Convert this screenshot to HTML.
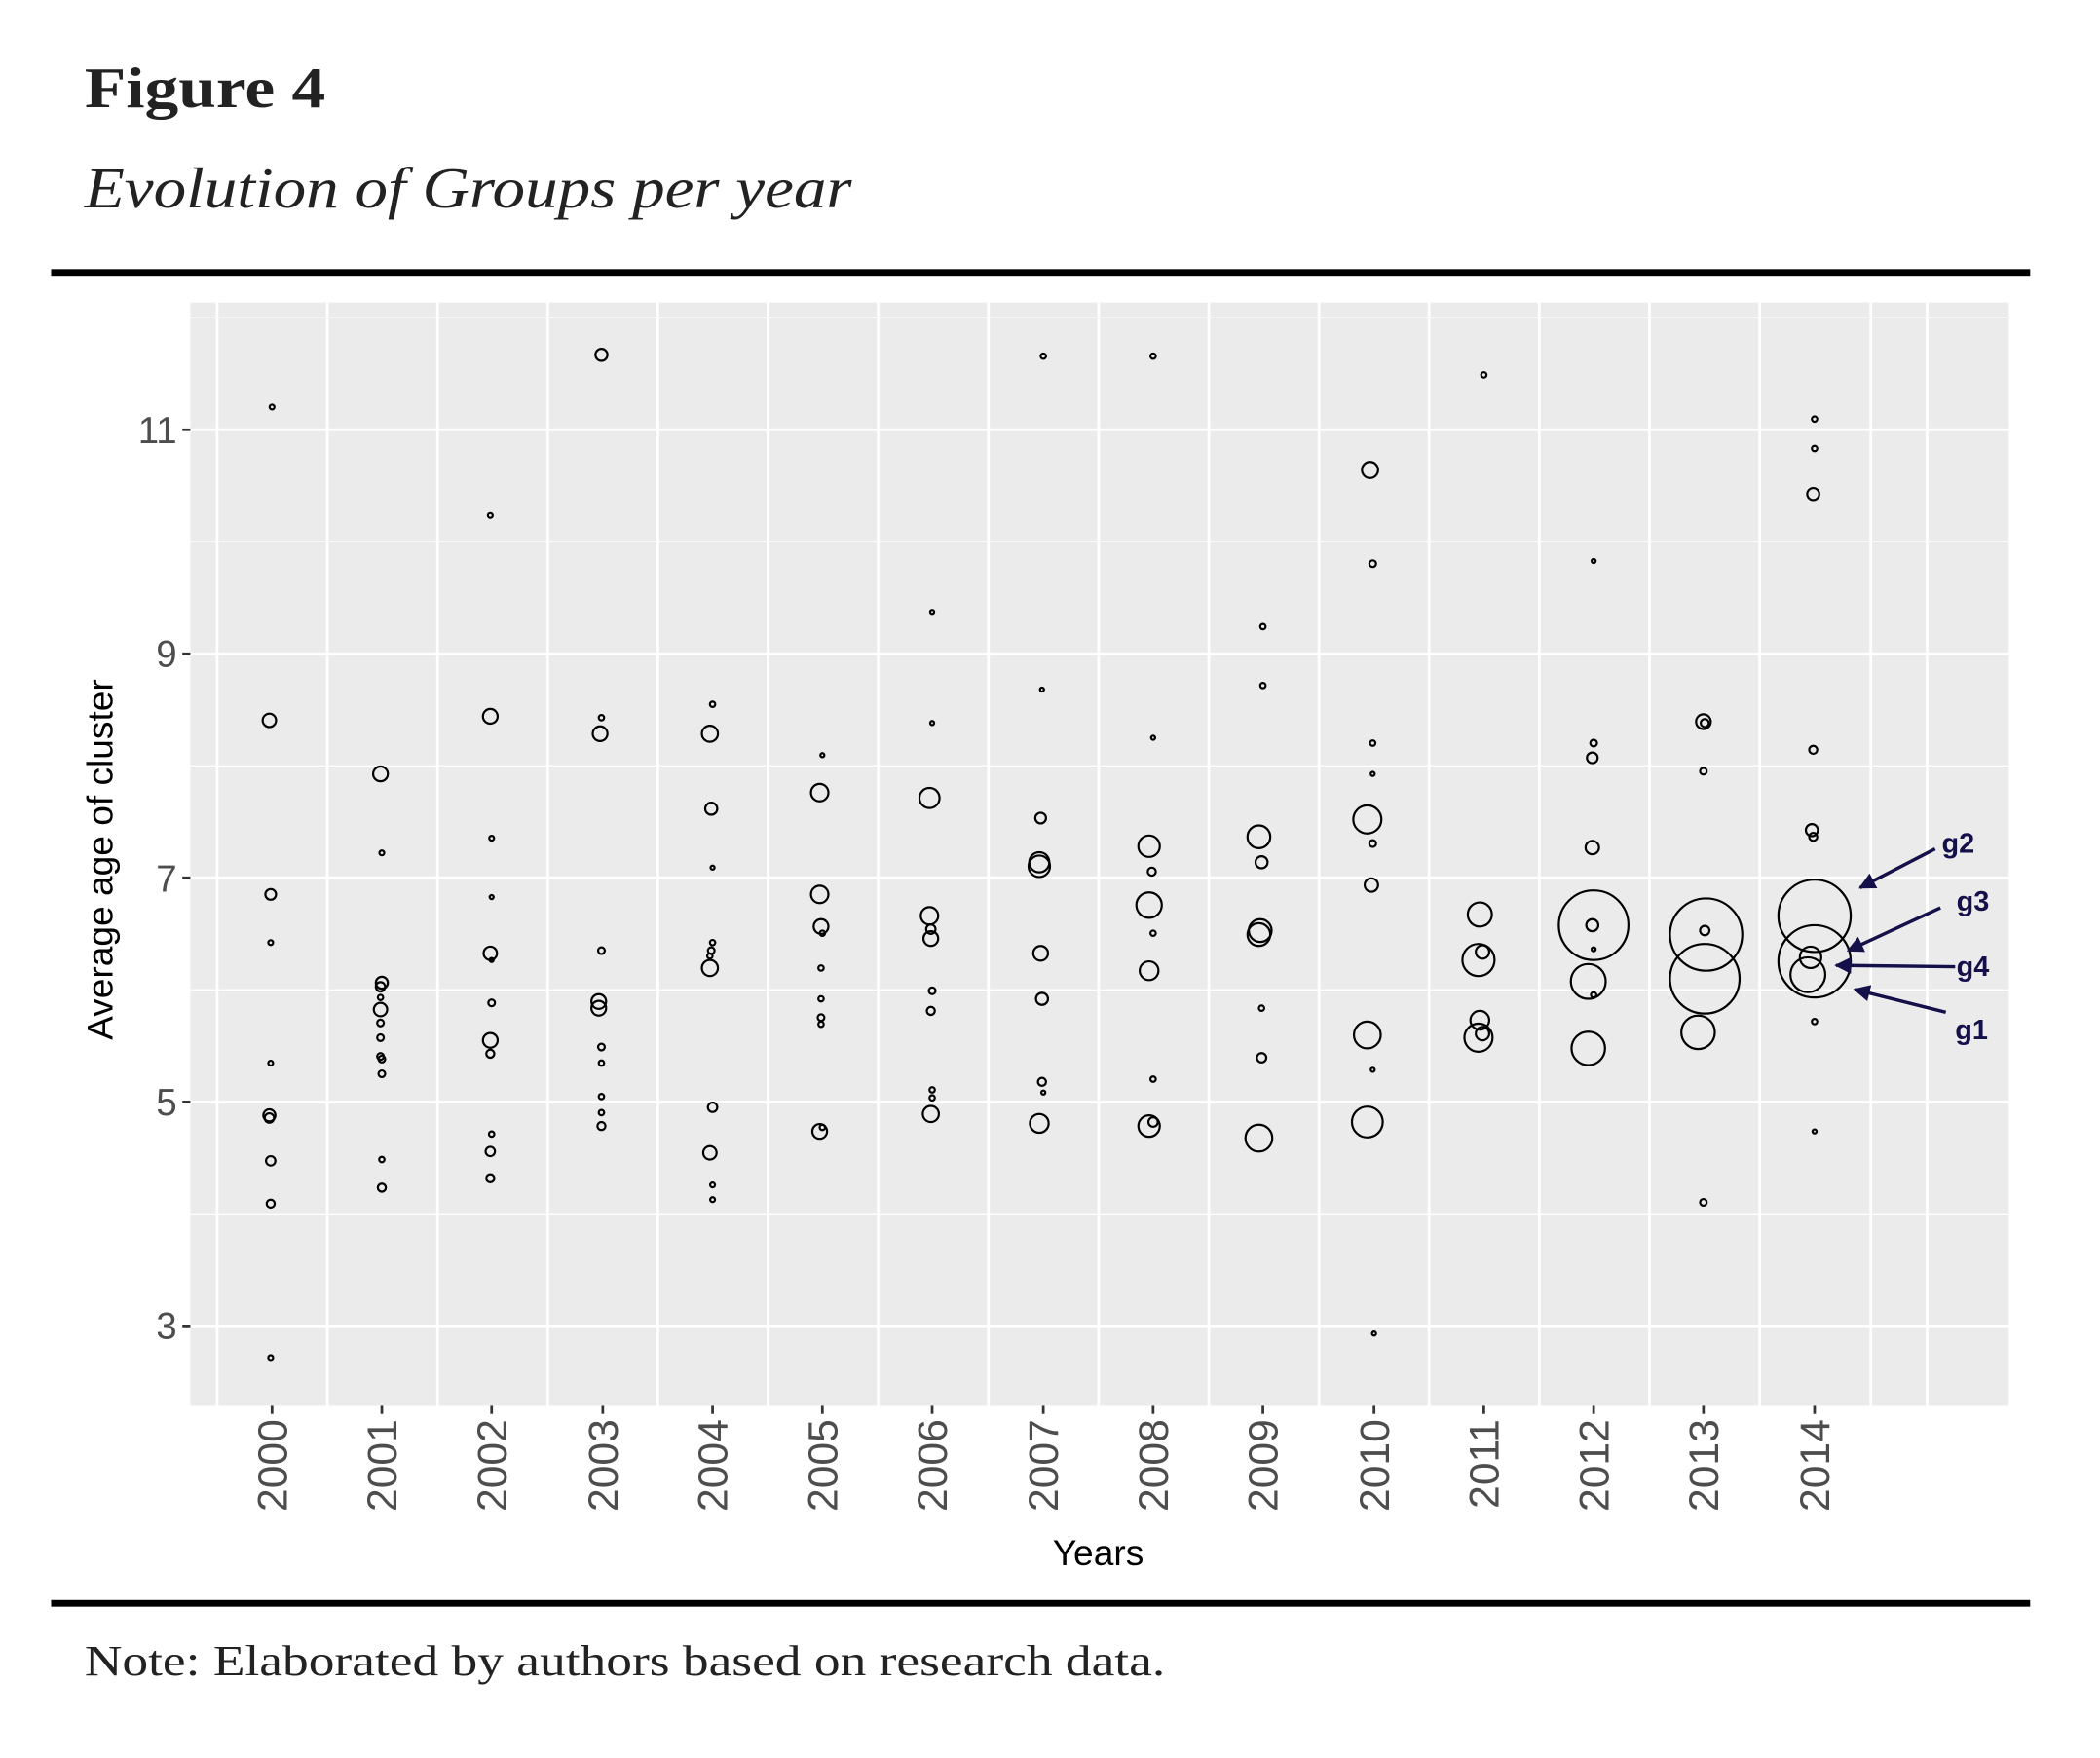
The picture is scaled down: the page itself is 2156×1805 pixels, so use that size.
<!DOCTYPE html>
<html><head><meta charset="utf-8"><style>html,body{margin:0;padding:0;background:#fff}svg{display:block}.gl{font-family:"Liberation Sans",sans-serif;font-weight:bold;font-size:21px;fill:#14104a}</style></head>
<body>
<svg xmlns="http://www.w3.org/2000/svg" width="2156" height="1805" viewBox="0 0 1568 1313">
<defs><marker id="ah" viewBox="0 0 10 10" refX="9" refY="5" markerWidth="5" markerHeight="5" orient="auto"><path d="M0,0 L10,5 L0,10 z" fill="#14104a"/></marker></defs>
<text x="63" y="80" font-family="Liberation Serif, serif" font-weight="bold" font-size="43" fill="#222" textLength="180" lengthAdjust="spacingAndGlyphs">Figure 4</text>
<text x="63" y="155" font-family="Liberation Serif, serif" font-style="italic" font-size="43" fill="#222" textLength="573" lengthAdjust="spacingAndGlyphs">Evolution of Groups per year</text>
<rect x="38" y="201" width="1478" height="5" fill="#000"/>
<rect x="142" y="226" width="1358" height="824" fill="#ebebeb"/>
<g stroke="#fff" stroke-width="1">
<line x1="142" x2="1500" y1="237.4" y2="237.4"/><line x1="142" x2="1500" y1="404.6" y2="404.6"/><line x1="142" x2="1500" y1="572" y2="572"/><line x1="142" x2="1500" y1="739.3" y2="739.3"/><line x1="142" x2="1500" y1="906.6" y2="906.6"/>
</g>
<g stroke="#fff" stroke-width="2">
<line x1="142" x2="1500" y1="321" y2="321"/><line x1="142" x2="1500" y1="488.3" y2="488.3"/><line x1="142" x2="1500" y1="655.6" y2="655.6"/><line x1="142" x2="1500" y1="823" y2="823"/><line x1="142" x2="1500" y1="990.3" y2="990.3"/>
<line x1="162" x2="162" y1="226" y2="1050"/><line x1="244.3" x2="244.3" y1="226" y2="1050"/><line x1="326.6" x2="326.6" y1="226" y2="1050"/><line x1="408.9" x2="408.9" y1="226" y2="1050"/><line x1="491.1" x2="491.1" y1="226" y2="1050"/><line x1="573.4" x2="573.4" y1="226" y2="1050"/><line x1="655.7" x2="655.7" y1="226" y2="1050"/><line x1="738" x2="738" y1="226" y2="1050"/><line x1="820.3" x2="820.3" y1="226" y2="1050"/><line x1="902.6" x2="902.6" y1="226" y2="1050"/><line x1="984.9" x2="984.9" y1="226" y2="1050"/><line x1="1067.1" x2="1067.1" y1="226" y2="1050"/><line x1="1149.4" x2="1149.4" y1="226" y2="1050"/><line x1="1231.7" x2="1231.7" y1="226" y2="1050"/><line x1="1314" x2="1314" y1="226" y2="1050"/><line x1="1397" x2="1397" y1="226" y2="1050"/><line x1="1439" x2="1439" y1="226" y2="1050"/>
</g>
<g stroke="#333" stroke-width="2">
<line x1="136" x2="142" y1="321" y2="321"/><line x1="136" x2="142" y1="488.3" y2="488.3"/><line x1="136" x2="142" y1="655.6" y2="655.6"/><line x1="136" x2="142" y1="823" y2="823"/><line x1="136" x2="142" y1="990.3" y2="990.3"/>
</g>
<g font-family="Liberation Sans, sans-serif" font-size="28" fill="#4d4d4d" text-anchor="end">
<text x="132" y="331">11</text><text x="132" y="498">9</text><text x="132" y="666">7</text><text x="132" y="833">5</text><text x="132" y="1000">3</text>
</g>
<text transform="translate(84,642) rotate(-90)" font-family="Liberation Sans, sans-serif" font-size="27" fill="#000" text-anchor="middle">Average age of cluster</text>
<g font-family="Liberation Sans, sans-serif" font-size="31" fill="#4d4d4d" text-anchor="end">
<text transform="translate(214,1060) rotate(-90)">2000</text><text transform="translate(296,1060) rotate(-90)">2001</text><text transform="translate(378,1060) rotate(-90)">2002</text><text transform="translate(461,1060) rotate(-90)">2003</text><text transform="translate(543,1060) rotate(-90)">2004</text><text transform="translate(625,1060) rotate(-90)">2005</text><text transform="translate(707,1060) rotate(-90)">2006</text><text transform="translate(790,1060) rotate(-90)">2007</text><text transform="translate(872,1060) rotate(-90)">2008</text><text transform="translate(954,1060) rotate(-90)">2009</text><text transform="translate(1037,1060) rotate(-90)">2010</text><text transform="translate(1119,1060) rotate(-90)">2011</text><text transform="translate(1201,1060) rotate(-90)">2012</text><text transform="translate(1283,1060) rotate(-90)">2013</text><text transform="translate(1366,1060) rotate(-90)">2014</text>
</g>
<g stroke="#333" stroke-width="2">
<line x1="203" x2="203" y1="1050" y2="1056"/><line x1="285" x2="285" y1="1050" y2="1056"/><line x1="367" x2="367" y1="1050" y2="1056"/><line x1="450" x2="450" y1="1050" y2="1056"/><line x1="532" x2="532" y1="1050" y2="1056"/><line x1="614" x2="614" y1="1050" y2="1056"/><line x1="696" x2="696" y1="1050" y2="1056"/><line x1="779" x2="779" y1="1050" y2="1056"/><line x1="861" x2="861" y1="1050" y2="1056"/><line x1="943" x2="943" y1="1050" y2="1056"/><line x1="1026" x2="1026" y1="1050" y2="1056"/><line x1="1108" x2="1108" y1="1050" y2="1056"/><line x1="1190" x2="1190" y1="1050" y2="1056"/><line x1="1272" x2="1272" y1="1050" y2="1056"/><line x1="1355" x2="1355" y1="1050" y2="1056"/>
</g>
<text x="820" y="1169" font-family="Liberation Sans, sans-serif" font-size="27" fill="#000" text-anchor="middle">Years</text>
<g fill="none" stroke="#000" stroke-width="1.6">
<circle cx="203" cy="304" r="1.8"/><circle cx="201" cy="538" r="5"/><circle cx="202" cy="668" r="4"/><circle cx="202" cy="704" r="1.8"/><circle cx="202" cy="794" r="1.8"/><circle cx="201" cy="833" r="4.5"/><circle cx="201" cy="835" r="3.5"/><circle cx="202" cy="867" r="3.5"/><circle cx="202" cy="899" r="3"/><circle cx="202" cy="1014" r="1.8"/>
<circle cx="284" cy="578" r="5.5"/><circle cx="285" cy="637" r="1.8"/><circle cx="285" cy="734" r="4.5"/><circle cx="284" cy="737" r="3.5"/><circle cx="284" cy="745" r="2"/><circle cx="284" cy="754" r="5"/><circle cx="284" cy="764" r="2.5"/><circle cx="284" cy="775" r="2.5"/><circle cx="284" cy="789" r="2.5"/><circle cx="285" cy="791" r="2.5"/><circle cx="285" cy="802" r="2.5"/><circle cx="285" cy="866" r="2"/><circle cx="285" cy="887" r="3"/>
<circle cx="366" cy="385" r="1.8"/><circle cx="366" cy="535" r="5.5"/><circle cx="367" cy="626" r="1.8"/><circle cx="367" cy="670" r="1.5"/><circle cx="366" cy="712" r="5"/><circle cx="367" cy="717" r="1.5"/><circle cx="367" cy="749" r="2.5"/><circle cx="366" cy="777" r="5.5"/><circle cx="366" cy="787" r="3"/><circle cx="367" cy="847" r="2"/><circle cx="366" cy="860" r="3.5"/><circle cx="366" cy="880" r="3"/>
<circle cx="449" cy="265" r="4.5"/><circle cx="449" cy="536" r="2"/><circle cx="448" cy="548" r="5.5"/><circle cx="449" cy="710" r="2.5"/><circle cx="447" cy="748" r="5.5"/><circle cx="447" cy="753" r="5.5"/><circle cx="449" cy="782" r="2.5"/><circle cx="449" cy="794" r="2"/><circle cx="449" cy="819" r="2"/><circle cx="449" cy="831" r="2"/><circle cx="449" cy="841" r="3"/>
<circle cx="532" cy="526" r="2"/><circle cx="530" cy="548" r="6"/><circle cx="531" cy="604" r="4.5"/><circle cx="532" cy="648" r="1.5"/><circle cx="532" cy="704" r="2"/><circle cx="531" cy="710" r="2.5"/><circle cx="530" cy="714" r="2"/><circle cx="530" cy="723" r="6"/><circle cx="532" cy="827" r="3.5"/><circle cx="530" cy="861" r="5"/><circle cx="532" cy="885" r="1.8"/><circle cx="532" cy="896" r="1.8"/>
<circle cx="614" cy="564" r="1.5"/><circle cx="612" cy="592" r="6.5"/><circle cx="612" cy="668" r="6.5"/><circle cx="613" cy="692" r="5.5"/><circle cx="614" cy="697" r="2"/><circle cx="613" cy="723" r="2"/><circle cx="613" cy="746" r="2"/><circle cx="613" cy="760" r="2.5"/><circle cx="613" cy="765" r="2"/><circle cx="612" cy="845" r="5.5"/><circle cx="614" cy="842" r="2"/>
<circle cx="696" cy="457" r="1.5"/><circle cx="696" cy="540" r="1.5"/><circle cx="694" cy="596" r="7.5"/><circle cx="694" cy="684" r="6.5"/><circle cx="695" cy="694" r="3.5"/><circle cx="695" cy="701" r="5.5"/><circle cx="696" cy="740" r="2.5"/><circle cx="695" cy="755" r="3"/><circle cx="696" cy="814" r="2"/><circle cx="696" cy="820" r="2"/><circle cx="695" cy="832" r="6"/>
<circle cx="779" cy="266" r="2"/><circle cx="778" cy="515" r="1.5"/><circle cx="777" cy="611" r="4"/><circle cx="776" cy="644" r="7.5"/><circle cx="776" cy="647" r="8"/><circle cx="777" cy="712" r="5.5"/><circle cx="778" cy="746" r="4.5"/><circle cx="778" cy="808" r="3"/><circle cx="779" cy="816" r="1.5"/><circle cx="776" cy="839" r="7"/>
<circle cx="861" cy="266" r="2"/><circle cx="861" cy="551" r="1.5"/><circle cx="858" cy="632" r="8"/><circle cx="860" cy="651" r="3"/><circle cx="858" cy="676" r="9.5"/><circle cx="861" cy="697" r="2"/><circle cx="858" cy="725" r="7"/><circle cx="861" cy="806" r="2"/><circle cx="858" cy="841" r="8"/><circle cx="861" cy="838" r="3.5"/>
<circle cx="943" cy="468" r="2"/><circle cx="943" cy="512" r="2"/><circle cx="940" cy="625" r="8.5"/><circle cx="942" cy="644" r="4.5"/><circle cx="941" cy="695" r="8.5"/><circle cx="940" cy="698" r="8.5"/><circle cx="942" cy="753" r="2"/><circle cx="942" cy="790" r="3.5"/><circle cx="940" cy="850" r="10"/>
<circle cx="1023" cy="351" r="6"/><circle cx="1025" cy="421" r="2.5"/><circle cx="1025" cy="555" r="2"/><circle cx="1025" cy="578" r="1.5"/><circle cx="1021" cy="612" r="10.5"/><circle cx="1025" cy="630" r="2.5"/><circle cx="1024" cy="661" r="5"/><circle cx="1021" cy="773" r="10"/><circle cx="1025" cy="799" r="1.5"/><circle cx="1021" cy="838" r="11.5"/><circle cx="1026" cy="996" r="1.5"/>
<circle cx="1108" cy="280" r="2"/><circle cx="1105" cy="683" r="9"/><circle cx="1104" cy="717" r="12"/><circle cx="1107" cy="711" r="5"/><circle cx="1105" cy="762" r="7"/><circle cx="1104" cy="775" r="10.5"/><circle cx="1107" cy="772" r="5"/>
<circle cx="1190" cy="419" r="1.5"/><circle cx="1190" cy="555" r="2.5"/><circle cx="1189" cy="566" r="4"/><circle cx="1189" cy="633" r="5"/><circle cx="1190" cy="691" r="26"/><circle cx="1189" cy="691" r="4.5"/><circle cx="1190" cy="709" r="1.5"/><circle cx="1186" cy="733" r="13"/><circle cx="1190" cy="743" r="2"/><circle cx="1186" cy="783" r="12.5"/>
<circle cx="1272" cy="539" r="5.5"/><circle cx="1273" cy="540" r="3"/><circle cx="1272" cy="576" r="2.5"/><circle cx="1274" cy="698" r="27"/><circle cx="1273" cy="695" r="3.5"/><circle cx="1273" cy="731" r="26"/><circle cx="1268" cy="771" r="12.5"/><circle cx="1272" cy="898" r="2.5"/>
<circle cx="1355" cy="313" r="2"/><circle cx="1355" cy="335" r="2"/><circle cx="1354" cy="369" r="4.5"/><circle cx="1354" cy="560" r="3"/><circle cx="1353" cy="620" r="4.5"/><circle cx="1354" cy="625" r="3"/><circle cx="1355" cy="684" r="27"/><circle cx="1355" cy="718" r="27"/><circle cx="1352" cy="715" r="8"/><circle cx="1350" cy="728" r="13"/><circle cx="1355" cy="763" r="2"/><circle cx="1355" cy="845" r="1.5"/>
</g>
<g stroke="#14104a" stroke-width="2.5" marker-end="url(#ah)">
<line x1="1445" y1="634" x2="1389" y2="663"/><line x1="1449" y1="678" x2="1380" y2="710"/><line x1="1460" y1="722" x2="1371" y2="721"/><line x1="1453" y1="756" x2="1385" y2="739"/>
</g>
<text class="gl" x="1450" y="637">g2</text><text class="gl" x="1461" y="680">g3</text><text class="gl" x="1461" y="729">g4</text><text class="gl" x="1460" y="776">g1</text>
<rect x="38" y="1195" width="1478" height="5" fill="#000"/>
<text x="63" y="1251" font-family="Liberation Serif, serif" font-size="32" fill="#222" textLength="807" lengthAdjust="spacingAndGlyphs">Note: Elaborated by authors based on research data.</text>
</svg>
</body></html>
